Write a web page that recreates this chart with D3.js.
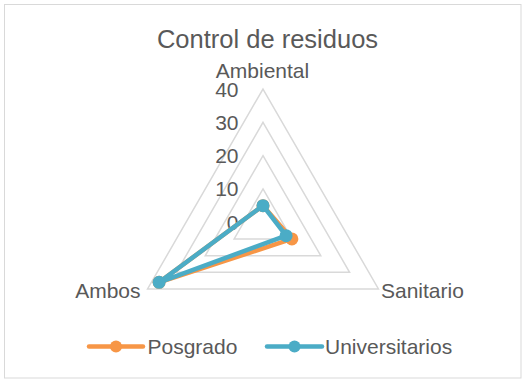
<!DOCTYPE html>
<html>
<head>
<meta charset="utf-8">
<script src="https://cdn.jsdelivr.net/npm/d3@7"></script>
<style>
  html, body { margin: 0; padding: 0; background: #fff; }
  svg text { font-family: "Liberation Sans", Arial, sans-serif; fill: #595959; }
</style>
</head>
<body>
<svg id="chart" width="526" height="383"></svg>
<script>
// Radar chart data
const title = "Control de residuos";
const axes = ["Ambiental", "Sanitario", "Ambos"];
const seriesNames = ["Posgrado", "Universitarios"];
const posgrado = [5, 10, 36];
const universitarios = [5, 8, 36];
const tickValues = [0, 10, 20, 30, 40];
const colors = ["#F79646", "#4BACC6"];

const svg = d3.select("#chart");
const W = 526, H = 383;

// chart frame
svg.append("rect")
  .attr("x", 4.5).attr("y", 4.5)
  .attr("width", W - 9.5).attr("height", H - 9.5)
  .attr("fill", "#fff").attr("stroke", "#D9D9D9").attr("stroke-width", 1);

svg.append("text")
  .attr("x", 267.5).attr("y", 48.3)
  .attr("text-anchor", "middle")
  .style("font-size", "25.5px")
  .text(title);

const cx = 263, cy = 222.3, R = 133.3;
const r = d3.scaleLinear().domain([0, 40]).range([0, R]);
const angle = d3.scalePoint().domain(axes).range([0, 2 * Math.PI * (axes.length - 1) / axes.length]);
const g = svg.append("g").attr("transform", `translate(${cx},${cy})`);

const pt = (axis, v) => {
  const a = angle(axis) - Math.PI / 2;
  return [r(v) * Math.cos(a), r(v) * Math.sin(a)];
};

// grid triangles
tickValues.filter(t => t > 0).forEach(t => {
  g.append("polygon")
    .attr("points", axes.map(a => pt(a, t).join(",")).join(" "))
    .attr("fill", "none")
    .attr("stroke", "#D9D9D9")
    .attr("stroke-width", 1.5);
});

// value labels along the top axis
g.selectAll("text.tick")
  .data(tickValues)
  .join("text")
  .attr("class", "tick")
  .attr("x", -24.5)
  .attr("y", d => -r(d) + 7.5)
  .attr("text-anchor", "end")
  .style("font-size", "21px")
  .text(d => d);

// category labels
const labelPos = {
  "Ambiental": { x: -0.5, y: 77.5 - cy, anchor: "middle" },
  "Sanitario": { x: 381 - cx, y: 297.7 - cy, anchor: "start" },
  "Ambos": { x: 140.5 - cx, y: 297.7 - cy, anchor: "end" }
};
axes.forEach(a => {
  g.append("text")
    .attr("x", labelPos[a].x).attr("y", labelPos[a].y)
    .attr("text-anchor", labelPos[a].anchor)
    .style("font-size", "21px")
    .text(a);
});

// series
const line = d3.line().curve(d3.curveLinearClosed);
[posgrado, universitarios].forEach((vals, i) => {
  const pts = axes.map((a, k) => pt(a, vals[k]));
  g.append("path")
    .attr("d", line(pts))
    .attr("fill", "none")
    .attr("stroke", colors[i])
    .attr("stroke-width", 4.5)
    .attr("stroke-linejoin", "round");
  g.selectAll(null)
    .data(pts)
    .join("circle")
    .attr("cx", d => d[0]).attr("cy", d => d[1])
    .attr("r", 6.5)
    .attr("fill", colors[i]);
});

// legend
const legendItems = [
  { name: seriesNames[0], x1: 89, x2: 143, tx: 147.5 },
  { name: seriesNames[1], x1: 267, x2: 322, tx: 325 }
];
legendItems.forEach((d, i) => {
  const lg = svg.append("g");
  lg.append("line")
    .attr("x1", d.x1).attr("x2", d.x2)
    .attr("y1", 346.5).attr("y2", 346.5)
    .attr("stroke", colors[i]).attr("stroke-width", 4.5)
    .attr("stroke-linecap", "round");
  lg.append("circle")
    .attr("cx", (d.x1 + d.x2) / 2).attr("cy", 346.5)
    .attr("r", 6).attr("fill", colors[i]);
  lg.append("text")
    .attr("x", d.tx).attr("y", 354)
    .style("font-size", "21px")
    .text(d.name);
});
</script>
</body>
</html>
